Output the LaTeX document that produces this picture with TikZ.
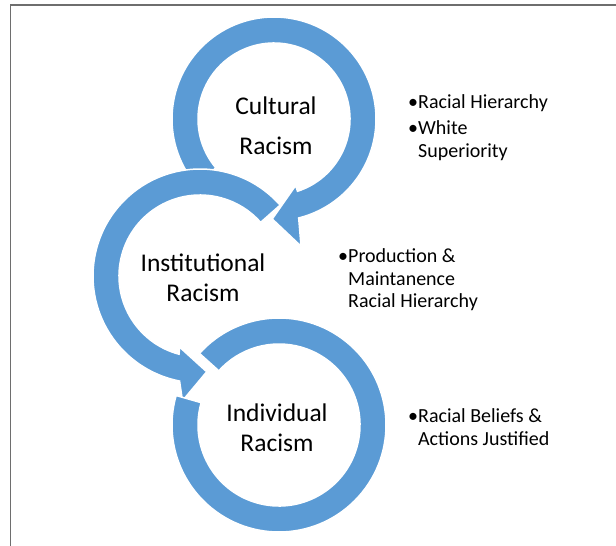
\documentclass[tikz,border=0pt]{standalone}
\usepackage{fontspec}
\setmainfont{Carlito}
\definecolor{ringblue}{RGB}{91,155,213}
\definecolor{framegray}{RGB}{110,110,110}
\begin{document}
\begin{tikzpicture}[x=1pt,y=-1pt,
  ring/.style={fill=ringblue,draw=white,line width=1.5pt,line join=miter},
  lab/.style={align=center,font=\fontsize{25.5}{30}\selectfont,inner sep=0pt},
  note/.style={anchor=north west,align=left,font=\fontsize{20}{22.5}\selectfont,inner sep=0pt}]
\useasboundingbox (0,0) rectangle (616,546);
% page frame
\draw[framegray,line width=2pt] (10,4.5) -- (616,4.5);
\draw[framegray,line width=1.2pt] (10.5,4) -- (10.5,546);
% ring 1: clockwise arrow around the cultural label
\begin{scope}[shift={(274,119)}]
  \filldraw[ring] (140:102) arc[start angle=140,end angle=436,radius=102]
    -- (438:130) -- (451:100) -- (432:70) -- (432:76)
    arc[start angle=432,end angle=140,radius=76] -- cycle;
\end{scope}
% ring 2: counter-clockwise arrow around the institutional label
\begin{scope}[shift={(200,276)}]
  \filldraw[ring] (318.5:107) arc[start angle=318.5,end angle=101,radius=107]
    -- (98:126) -- (86:96) -- (106:74) -- (105:81)
    arc[start angle=105,end angle=318.5,radius=81] -- cycle;
\end{scope}
% ring 3: open ring around the individual label
\begin{scope}[shift={(279,425)}]
  \filldraw[ring] (222:107) arc[start angle=222,end angle=556,radius=107]
    -- (556:81) arc[start angle=556,end angle=222,radius=81] -- cycle;
\end{scope}
% labels
\node[lab] (cultural) at (276,126) {Cultural\\[10pt]Racism};
\node[lab] (institutional) at (203,278) {Institutional\\Racism};
\node[lab] (individual) at (277,428) {Individual\\Racism};
% notes
\node[note] (n1) at (408,93) {\begin{tabular}{@{}l@{}l@{}}\textbullet&Racial Hierarchy\\[3.5pt]\textbullet&White\\&Superiority\end{tabular}};
\node[note] (n2) at (338,247) {\begin{tabular}{@{}l@{}l@{}}\textbullet&Production \&\\&Maintanence\\&Racial Hierarchy\end{tabular}};
\node[note] (n3) at (408,407) {\begin{tabular}{@{}l@{}l@{}}\textbullet&Racial Beliefs \&\\&Actions Justified\end{tabular}};
\end{tikzpicture}
\end{document}
